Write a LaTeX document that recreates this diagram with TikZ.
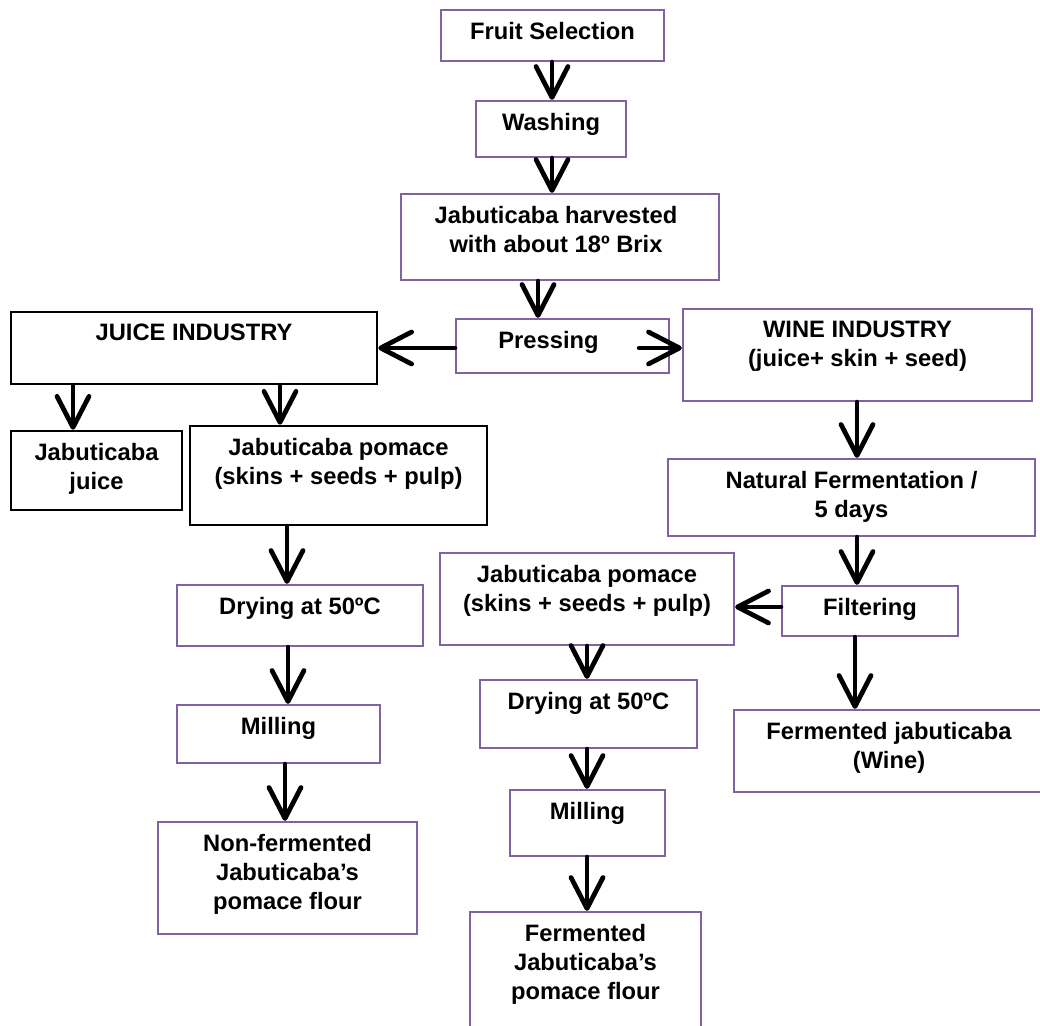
\documentclass[tikz,border=0pt]{standalone}
\usepackage{fontspec}
\setmainfont{Liberation Sans}
\usetikzlibrary{arrows.meta,fit,positioning}
\definecolor{FlowPurple}{HTML}{8064A2}
\newcommand{\boxfont}{\fontsize{13.5}{16.6}\selectfont\bfseries}
\tikzset{
  pbox/.style={draw=FlowPurple,line width=.045cm,inner sep=0pt},
  kbox/.style={draw=black,line width=.05cm,inner sep=0pt},
  boxtext/.style={anchor=north,yshift=-.26cm,inner sep=0pt,align=center,font=\boxfont},
  flow/.style={-{Straight Barb[length=.62cm,width=.64cm,round]},line width=.095cm,line cap=round}
}

\begin{document}
\begin{tikzpicture}[x=.02cm,y=-.02cm]
\clip (0,0) rectangle (1040,1026);
\fill[white] (0,0) rectangle (1040,1026);
% main line
\node[pbox,fit={(441,10) (664,61)},label={[boxtext]north:Fruit Selection}] (fruit) {};
\node[pbox,fit={(476,101) (626,157)},label={[boxtext]north:Washing}] (wash) {};
\node[pbox,fit={(401,194) (719,280)},label={[boxtext,xshift=-.08cm]north:Jabuticaba harvested\\with about 18º Brix}] (harv) {};
\node[pbox,fit={(456,319) (669,373)},label={[boxtext,xshift=-.28cm]north:Pressing}] (press) {};
% juice side
\node[kbox,fit={(11,312) (377,384)},label={[boxtext]north:JUICE INDUSTRY}] (juice) {};
\node[kbox,fit={(11,431) (182,510)},label={[boxtext]north:Jabuticaba\\juice}] (jjuice) {};
\node[kbox,fit={(190,426) (487,525)},label={[boxtext]north:Jabuticaba pomace\\(skins + seeds + pulp)}] (lpomace) {};
\node[pbox,fit={(177,585) (423,646)},label={[boxtext]north:Drying at 50ºC}] (ldry) {};
\node[pbox,fit={(177,705) (380,763)},label={[boxtext]north:Milling}] (lmill) {};
\node[pbox,fit={(158,822) (417,934)},label={[boxtext]north:Non-fermented\\Jabuticaba’s\\pomace flour}] (lflour) {};
% wine side
\node[pbox,fit={(683,309) (1032,401)},label={[boxtext]north:WINE INDUSTRY\\(juice+ skin + seed)}] (wine) {};
\node[pbox,fit={(668,459) (1035,536)},label={[boxtext]north:Natural Fermentation /\\5 days}] (natferm) {};
\node[pbox,fit={(782,586) (958,636)},label={[boxtext]north:Filtering}] (filter) {};
\node[pbox,fit={(734,710) (1044,792)},label={[boxtext]north:Fermented jabuticaba\\(Wine)}] (wineout) {};
\node[pbox,fit={(440,553) (734,645)},label={[boxtext]north:Jabuticaba pomace\\(skins + seeds + pulp)}] (rpomace) {};
\node[pbox,fit={(480,680) (697,748)},label={[boxtext]north:Drying at 50ºC}] (rdry) {};
\node[pbox,fit={(510,790) (665,856)},label={[boxtext]north:Milling}] (rmill) {};
\node[pbox,fit={(470,912) (701,1040)},label={[boxtext]north:Fermented\\Jabuticaba’s\\pomace flour}] (rflour) {};
% arrows
\draw[flow] (552,0 |- fruit.south) -- (552,0 |- wash.north);
\draw[flow] (552,0 |- wash.south) -- (552,0 |- harv.north);
\draw[flow] (538,0 |- harv.south) -- (538,0 |- press.north);
\draw[flow] (0,348 -| press.west) -- (0,348 -| juice.east);
\draw[flow,shorten <=-.62cm] (0,348 -| press.east) -- (0,348 -| wine.west);
\draw[flow] (73,0 |- juice.south) -- (73,0 |- jjuice.north);
\draw[flow] (280,0 |- juice.south) -- (280,0 |- lpomace.north);
\draw[flow] (287,0 |- lpomace.south) -- (287,0 |- ldry.north);
\draw[flow] (288,0 |- ldry.south) -- (288,0 |- lmill.north);
\draw[flow] (285,0 |- lmill.south) -- (285,0 |- lflour.north);
\draw[flow] (857,0 |- wine.south) -- (857,0 |- natferm.north);
\draw[flow] (857,0 |- natferm.south) -- (857,0 |- filter.north);
\draw[flow] (0,607 -| filter.west) -- (0,607 -| rpomace.east);
\draw[flow] (855,0 |- filter.south) -- (855,0 |- wineout.north);
\draw[flow] (587,0 |- rpomace.south) -- (587,0 |- rdry.north);
\draw[flow] (587,0 |- rdry.south) -- (587,0 |- rmill.north);
\draw[flow] (587,0 |- rmill.south) -- (587,0 |- rflour.north);
\end{tikzpicture}
\end{document}
